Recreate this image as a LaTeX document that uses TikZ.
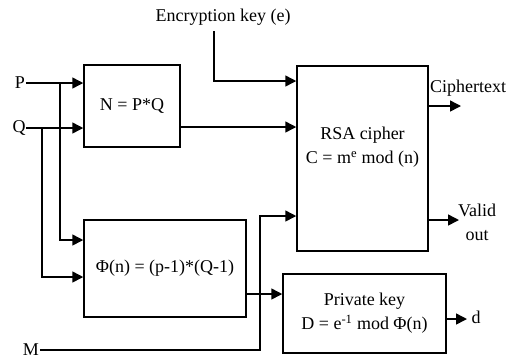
\documentclass[tikz,border=0pt]{standalone}
\usepackage{fontspec}
\setmainfont{Liberation Serif}
\usetikzlibrary{arrows.meta}
\begin{document}
\begin{tikzpicture}[x=1pt,y=-1pt,
  line width=1.5pt,
  every node/.style={font=\fontsize{18}{24}\selectfont, inner sep=0pt},
  block/.style={draw, line width=1.5pt, align=center},
  arr/.style={-{Triangle[length=11pt,width=11pt]}},
  lbl/.style={align=center}]
\useasboundingbox (0,0) rectangle (513,360);

% blocks
\node[block, minimum width=96pt, minimum height=82pt] (npq) at (132,106) {N = P*Q};
\node[block, minimum width=162pt, minimum height=97pt] (phi) at (165,268.5) {Φ(n) = (p-1)*(Q-1)};
\node[block, minimum width=131pt, minimum height=185pt] (rsa) at (362.5,158.5) {};
\node[lbl] (rsatext) at (362.5,147.5) {RSA cipher\\C = m\textsuperscript{e} mod (n)};
\node[block, minimum width=163pt, minimum height=79pt] (pk) at (364.5,313.5)
  {Private key\\D = e\textsuperscript{-1} mod Φ(n)};

% inputs and outputs
\node (P) at (20,83) {P};
\node (Q) at (19,128) {Q};
\node (M) at (31,350) {M};
\node (enc) at (223,17) {Encryption key (e)};
\node (ct) at (468,88) {Ciphertext};
\node[lbl] (valid) at (477,222) {Valid\\out};
\node (d) at (476,317) {d};

% junction and end points
\coordinate (pj) at (60,83);
\coordinate (qj) at (42,128);
\coordinate (ek) at (214,31);
\coordinate (ekin) at (214,81);
\coordinate (mup) at (260,216);
\coordinate (nout) at ([yshift=-21pt]npq.east);
\coordinate (phiout) at ([yshift=-25.5pt]phi.east);
\coordinate (ctend) at (461,106);
\coordinate (vend) at (459,220);
\coordinate (dend) at (467,319);

% connectors
\draw[arr] (P.east) -- (P.east -| npq.west);
\draw[arr] (Q.east) -- (Q.east -| npq.west);
\draw[arr] (pj) |- ([yshift=28.5pt]phi.west);
\draw[arr] (qj) |- ([yshift=-8.5pt]phi.west);
\draw[arr] (nout) -- (nout -| rsa.west);
\draw[arr] (ek) -- (ekin) -- (ekin -| rsa.west);
\draw[arr] (M.east) -| (mup) -- (mup -| rsa.west);
\draw[arr] (phiout) -- (phiout -| pk.west);
\draw[arr] (ctend -| rsa.east) -- (ctend);
\draw[arr] (vend -| rsa.east) -- (vend);
\draw[arr] (dend -| pk.east) -- (dend);
\end{tikzpicture}
\end{document}
